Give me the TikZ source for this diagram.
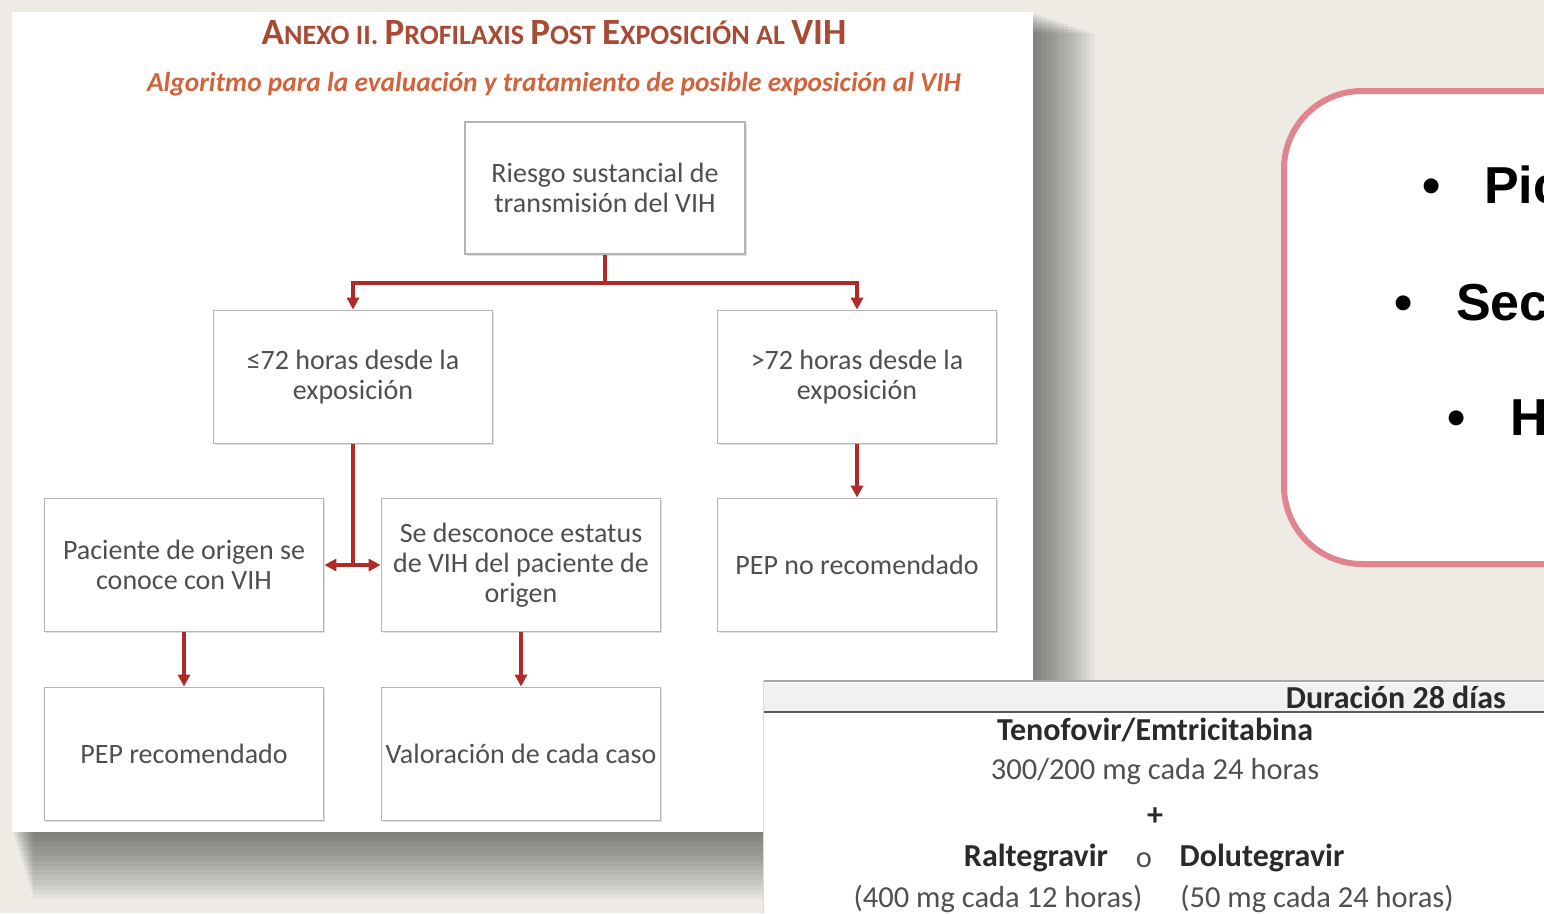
\documentclass[tikz,border=0pt]{standalone}
\usepackage{fontspec}
\setmainfont{Carlito}
\newfontfamily\arialf{Liberation Sans}
\usetikzlibrary{arrows.meta,shadows}
\definecolor{bg}{HTML}{EDEBE4}
\definecolor{boxline}{HTML}{B5B5B5}
\definecolor{txtg}{HTML}{4F4F4F}
\definecolor{ttl}{HTML}{A94A35}
\definecolor{sub}{HTML}{D0643C}
\definecolor{con}{HTML}{B02A2A}
\definecolor{pinkc}{HTML}{E0848F}
\definecolor{hdr}{HTML}{F1F1F1}
\definecolor{tdark}{HTML}{2A2A2A}
\definecolor{tgray}{HTML}{505050}
\newcommand\Bg[1]{{\fontsize{37}{37}\selectfont #1}}
\tikzset{
  fbox/.style={draw=boxline, line width=1.8pt, fill=white, minimum width=279pt, minimum height=133pt,
    align=center, text=txtg, font=\fontsize{28}{30}\selectfont, inner sep=2pt,
    drop shadow={shadow xshift=1.5pt, shadow yshift=-1.5pt, opacity=0.25}},
  conn/.style={draw=con, line width=3.5pt},
  tip/.style={-{Triangle[length=12pt,width=12pt]}},
  dtip/.style={{Triangle[length=12pt,width=12pt]}-{Triangle[length=12pt,width=12pt]}},
  tbold/.style={text=tdark, font=\bfseries\fontsize{32}{32}\selectfont, inner sep=0pt},
  treg/.style={text=tgray, font=\fontsize{30.5}{30.5}\selectfont, inner sep=0pt},
  bul/.style={font=\arialf\bfseries\fontsize{52}{52}\selectfont, inner sep=0pt, text=black}
}
\begin{document}
\begin{tikzpicture}[x=1pt,y=-1pt]
\useasboundingbox (0,0) rectangle (1544,913);
\clip (0,0) rectangle (1544,913);
\fill[bg] (0,0) rectangle (1544,913);
% shadow of left panel
\foreach \i in {1,...,14}
  \fill[black, opacity=0.04] (12+\i*1.5,12+\i*1.5) rectangle (1033+\i*4.4,832+\i*4.8);
\fill[white] (12,12) rectangle (1033,832);
% titles
\node[text=ttl, font=\bfseries\fontsize{28}{28}\selectfont, inner sep=0pt] (title) at (554,33)
  {\Bg{A}NEXO II. \Bg{P}ROFILAXIS \Bg{P}OST \Bg{E}XPOSICIÓN AL \Bg{VIH}};
\node[text=sub, font=\bfseries\itshape\fontsize{27.4}{27.4}\selectfont, inner sep=0pt] (subtitle) at (554,84)
  {Algoritmo para la evaluación y tratamiento de posible exposición al VIH};
% boxes
\node[fbox, minimum width=280pt, minimum height=132pt] (top) at (605,188) {Riesgo sustancial de\\transmisión del VIH};
\node[fbox] (m1) at (353,377) {≤72 horas desde la\\exposición};
\node[fbox] (m2) at (857,377) {>72 horas desde la\\exposición};
\node[fbox] (l3) at (184,565) {Paciente de origen se\\conoce con VIH};
\node[fbox] (c3) at (521,565) {Se desconoce estatus\\de VIH del paciente de\\origen};
\node[fbox] (r3) at (857,565) {PEP no recomendado};
\node[fbox] (l4) at (184,754) {PEP recomendado};
\node[fbox] (c4) at (521,754) {Valoración de cada caso};
% connectors
\coordinate (j) at (605,283);
\coordinate (k) at (353,565);
\draw[conn] (top.south) -- (j);
\draw[conn,tip] (j) -| (m1.north);
\draw[conn,tip] (j) -| (m2.north);
\draw[conn] (m1.south) -- (k);
\draw[conn,dtip] (l3.east) -- (c3.west);
\draw[conn,tip] (m2.south) -- (r3.north);
\draw[conn,tip] (l3.south) -- (l4.north);
\draw[conn,tip] (c3.south) -- (c4.north);
% pink box
\draw[pinkc, line width=6pt, fill=white, rounded corners=78pt] (1284,91) rectangle (1660,564);
\node[bul, anchor=base] (b1) at (1432,203) {•};
\node[bul, anchor=base west] (t1) at (1484,203) {Pic};
\node[bul, anchor=base] (b2) at (1404,320) {•};
\node[bul, anchor=base west] (t2) at (1456,320) {Sec};
\node[bul, anchor=base] (b3) at (1457,435) {•};
\node[bul, anchor=base west] (t3) at (1510,435) {H};
% table panel
\fill[white] (763,680) rectangle (1544,913);
\fill[hdr] (763,683) rectangle (1544,712);
\draw[gray!70, line width=1.5pt] (763,681) -- (1544,681);
\draw[black!65, line width=2pt] (763,712) -- (1544,712);
\draw[gray!30, line width=1pt] (763.5,680) -- (763.5,913);
\node[tbold, anchor=east] (dur) at (1506,697) {Duración 28 días};
\node[tbold] (teno) at (1155,730) {Tenofovir/Emtricitabina};
\node[treg] (dose) at (1155,772) {300/200 mg cada 24 horas};
\node[tbold] (plus) at (1155,817) {+};
\node[tbold] (ral) at (1036,858) {Raltegravir};
\node[treg] (o) at (1144,860) {o};
\node[tbold] (dol) at (1262,858) {Dolutegravir};
\node[treg] (rald) at (998,899) {(400 mg cada 12 horas)};
\node[treg] (dold) at (1317,899) {(50 mg cada 24 horas)};
\end{tikzpicture}
\end{document}
